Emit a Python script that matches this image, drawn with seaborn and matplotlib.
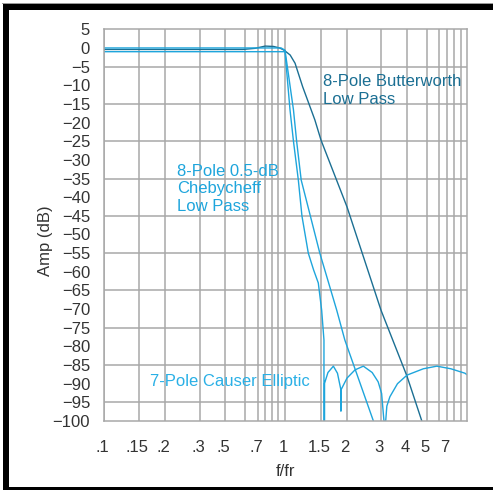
import numpy as np
import matplotlib
matplotlib.use("Agg")
import matplotlib.pyplot as plt
import matplotlib.transforms as mtransforms
from matplotlib.patches import Rectangle
import seaborn as sns

# ---- data (f/fr, dB) ----
butter_f = [0.1, 0.6, 0.68, 0.77, 0.86, 0.93, 0.98, 1.0, 1.06, 1.12, 1.22, 1.4, 1.5, 2.0, 3.0, 4.0, 4.72]
butter_db = [-0.4, -0.4, -0.1, 0.5, 0.4, 0.0, -0.5, -0.8, -1.9, -4.1, -10.4, -19.3, -24.7, -42.6, -70.3, -88.0, -100]

cheby_f = [0.1, 0.95, 1.0, 1.1, 1.14, 1.2, 1.33, 1.48, 1.785, 1.953, 2.74]
cheby_db = [0.0, 0.0, -0.6, -16.6, -25.0, -35.4, -45.0, -55.0, -70.3, -78.3, -100]

ellip_f = [0.1, 0.95, 1.0, 1.058, 1.1, 1.162, 1.21, 1.30, 1.38, 1.455, 1.511, 1.55, 1.55, 1.56, 1.56,
           1.62, 1.72, 1.80, 1.87, 1.87, 1.87, 2.0, 2.2, 2.43, 2.7, 2.9, 3.02, 3.10,
           3.16, 3.2, 3.31, 3.6, 4.0, 4.8, 5.9, 7.5, 9.65, 10.0]
ellip_db = [-1.0, -1.0, -1.0, -16.6, -25.0, -35.4, -45.0, -55.0, -59.5, -63.0, -70.3, -78.3, -100, -100, -89.9,
            -87.0, -85.3, -87.2, -91.7, -97.3, -91.7, -88.5, -86.3, -85.3, -87.0, -89.5, -92.6, -100,
            -100, -96.0, -93.5, -90.0, -87.7, -86.0, -85.3, -86.0, -87.2, -87.6]

# x axis of the original is a hand-drawn log grid: labelled values pinned to grid
grid_vals = [0.001, 0.1, 0.15, 0.2, 0.3, 0.5, 0.7, 1, 1.5, 2, 3, 4, 5, 7, 10, 1000]
grid_pos = [-258, 104, 139, 165, 200, 225, 258, 285, 321, 347, 381, 407, 427, 447, 467, 829]

xtick_vals = [0.1, 0.15, 0.2, 0.3, 0.5, 0.7, 1, 1.5, 2, 3, 4, 5, 7]
xtick_labels = [".1", ".15", ".2", ".3", ".5", ".7", "1", "1.5", "2", "3", "4", "5", "7"]
xgrid_extra = [0.61, 0.77, 0.84, 0.91, 6.1, 7.9, 9.0]

ytick_vals = list(range(5, -101, -5))
ygrid_vals = list(range(-5, -96, -10))

dark = "#1b6f93"
light = "#1ea5dc"
grid_col = "#a8a8a8"
text_col = "#333333"

sns.set_style("white")
plt.rcParams["font.family"] = ["Liberation Sans", "DejaVu Sans"]

fig = plt.figure(figsize=(4.93, 4.90), dpi=100)
ax = fig.add_axes([104 / 493, 1 - 421 / 490, (467 - 104) / 493, (421 - 29.3) / 490])

log_v = np.log10(grid_vals)


def fwd(x):
    with np.errstate(divide="ignore", invalid="ignore"):
        return np.interp(np.log10(np.asarray(x, dtype=float)), log_v, grid_pos)


def inv(p):
    return 10 ** np.interp(np.asarray(p, dtype=float), grid_pos, log_v)


ax.set_xscale("function", functions=(fwd, inv))

sns.lineplot(x=butter_f, y=butter_db, sort=False, estimator=None, color=dark, linewidth=1.0, ax=ax)
sns.lineplot(x=cheby_f, y=cheby_db, sort=False, estimator=None, color=light, linewidth=1.0, ax=ax)
sns.lineplot(x=ellip_f, y=ellip_db, sort=False, estimator=None, color=light, linewidth=1.0, ax=ax)

ax.set_xlim(0.1, 10)
ax.set_ylim(-100, 5)

# x ticks / grid
ax.set_xticks(xtick_vals)
ax.set_xticklabels(xtick_labels)
ax.set_xticks(xgrid_extra, minor=True)
ax.tick_params(axis="x", which="both", direction="out", length=8, width=1.1,
               color=grid_col, labelsize=12, labelcolor=text_col, pad=6)
ax.xaxis.get_major_ticks()[0].tick1line.set_visible(False)
shift = mtransforms.ScaledTranslation(-2 / 100, 0, fig.dpi_scale_trans)
for lab in ax.get_xticklabels():
    lab.set_transform(lab.get_transform() + shift)

# y ticks / grid (grid only on every other tick)
ax.yaxis.remove_overlapping_locs = False
ax.set_yticks(ytick_vals)
ax.set_yticklabels([str(v) if v >= 0 else "\u2212" + str(-v) for v in ytick_vals])
ax.set_yticks(ygrid_vals, minor=True)
ax.tick_params(axis="y", which="both", length=0, labelsize=12, labelcolor=text_col, pad=10)

ax.grid(False)
ax.xaxis.grid(True, which="both", color=grid_col, linewidth=1.1)
ax.yaxis.grid(True, which="minor", color=grid_col, linewidth=1.1)
for sp in ax.spines.values():
    sp.set_color(grid_col)
    sp.set_linewidth(1.1)
    sp.set_visible(True)
ax.set_axisbelow(True)

ax.set_xlabel("f/fr", fontsize=12, color=text_col, labelpad=6)
ax.set_ylabel("Amp (dB)", fontsize=12, color=text_col)
ax.yaxis.set_label_coords(-0.14, 0.46)

ax.text(1.53, -7.0, "8-Pole Butterworth\nLow Pass", color=dark, fontsize=12,
        ha="left", va="top", linespacing=1.26)
ax.text(0.229, -31.1, "8-Pole 0.5-dB\nChebycheff\nLow Pass", color=light, fontsize=12,
        ha="left", va="top", linespacing=1.2)
ax.text(0.1695, -90.5, "7-Pole Causer Elliptic", color="#2ab0e6", fontsize=12,
        ha="left", va="baseline")

# outer frame of the original figure
W, H = 493, 490
fig.add_artist(Rectangle((2.5 / W, 0), 6 / W, 1 - 4.5 / H, transform=fig.transFigure,
                         facecolor="black", edgecolor="none"))
fig.add_artist(Rectangle((2.5 / W, 1 - 10.5 / H), 1, 6 / H, transform=fig.transFigure,
                         facecolor="black", edgecolor="none"))
fig.add_artist(Rectangle((2.5 / W, 0), 1, 3.5 / H, transform=fig.transFigure,
                         facecolor="black", edgecolor="none"))
fig.add_artist(Rectangle((1.5 / W, 1 - 4.5 / H), 1, 1 / H, transform=fig.transFigure,
                         facecolor="#9a9a9a", edgecolor="none"))

fig.savefig("out.png", dpi=100)
